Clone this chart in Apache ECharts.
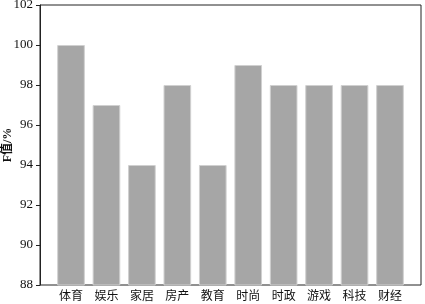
<!DOCTYPE html>
<html><head><meta charset="utf-8">
<script src="https://cdn.jsdelivr.net/npm/echarts@6/dist/echarts.min.js"></script>
<style>html,body{margin:0;padding:0;background:#fff}#c{width:425px;height:304px}</style>
</head><body><div id="c"></div>
<script>
const categories = ['体育','娱乐','家居','房产','教育','时尚','时政','游戏','科技','财经'];
const fValues = [100, 97, 94, 98, 94, 99, 98, 98, 98, 98];
const yTicks = {min: 88, max: 102, interval: 2};
const font = '"Liberation Serif", "Noto Sans CJK SC", serif';
const chart = echarts.init(document.getElementById('c'));
const gridBase = {top: 5, bottom: 19, outerBoundsMode: 'none', containLabel: false};
chart.setOption({
  animation: false,
  grid: [
    Object.assign({left: 40, right: 4, show: true, borderColor: '#222', borderWidth: 1, backgroundColor: 'transparent'}, gridBase),
    Object.assign({left: 53.3, right: 17.3}, gridBase)
  ],
  xAxis: [
    {type: 'category', gridIndex: 0, data: categories, axisLine: {show: false}, axisTick: {show: false}, axisLabel: {show: false}},
    {
      type: 'category', gridIndex: 1, data: categories,
      axisLine: {show: false},
      axisTick: {alignWithLabel: true, length: 4, lineStyle: {color: '#222'}},
      axisLabel: {color: '#111', fontFamily: font, fontSize: 12, margin: 6}
    }
  ],
  yAxis: [
    {
      type: 'value', gridIndex: 0, min: yTicks.min, max: yTicks.max, interval: yTicks.interval,
      name: 'F值/%', nameLocation: 'middle', nameGap: 26, nameRotate: 90, nameMoveOverlap: false,
      nameTextStyle: {color: '#111', fontFamily: font, fontSize: 12, fontWeight: 'bold'},
      splitLine: {show: false},
      axisLine: {show: true, lineStyle: {color: '#222'}},
      axisTick: {show: true, length: 4, lineStyle: {color: '#222'}},
      axisLabel: {color: '#111', fontFamily: font, fontSize: 13, margin: 7}
    },
    {type: 'value', gridIndex: 1, min: yTicks.min, max: yTicks.max, interval: yTicks.interval, show: false, splitLine: {show: false}}
  ],
  series: [{
    type: 'bar', xAxisIndex: 1, yAxisIndex: 1, data: fValues, barWidth: '78%',
    itemStyle: {color: '#a6a6a6', borderColor: '#d0d0d0', borderWidth: 1}
  }]
});
</script></body></html>
